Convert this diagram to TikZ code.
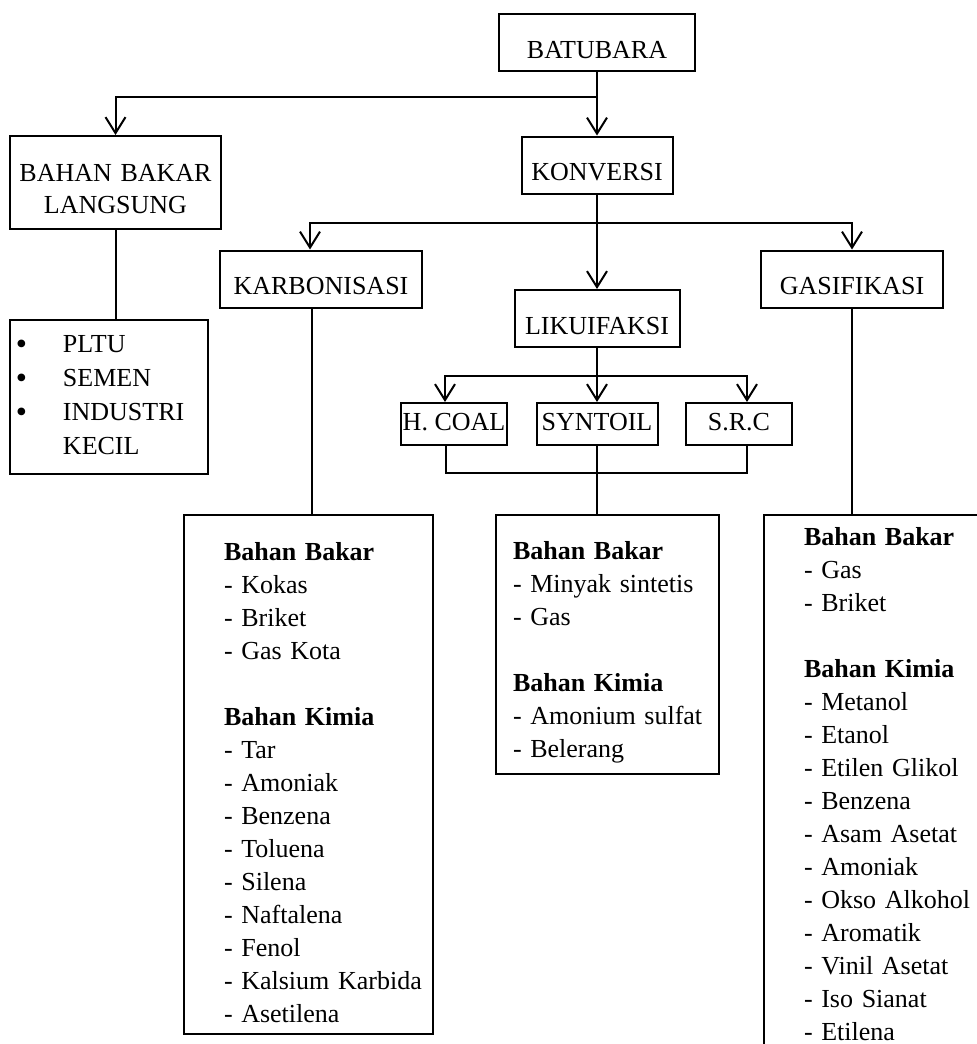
\documentclass[tikz,border=0pt]{standalone}
\usepackage{fontspec}
\setmainfont{Liberation Serif}
\usetikzlibrary{arrows.meta}

\newcommand{\bulletitem}{\makebox[23.5pt][l]{\raisebox{-1pt}{\fontsize{16pt}{16pt}\selectfont\textbullet}}}

\begin{document}
\begin{tikzpicture}[x=0.5pt,y=-0.5pt,line width=1pt,
                    >={Straight Barb[length=8pt,width=10pt]},
                    every node/.style={font=\fontsize{13pt}{16.5pt}\selectfont},
                    box/.style={draw,inner sep=0pt,minimum height=28.5pt,
                                text height=15.5pt,text depth=0pt},
                    small box/.style={draw,inner sep=0pt,minimum height=21pt,
                                minimum width=53pt,text height=6pt,text depth=0pt},
                    list box/.style={draw,anchor=north west,align=left,
                                inner xsep=0pt,text height=9pt}]
  \useasboundingbox (0,0) rectangle (977,1044);
  \clip (0,0) rectangle (977,1044);

  \node[box,minimum width=98pt]   (batubara)    at (597,42.5)  {BATUBARA};
  \node[box,minimum width=75.5pt] (konversi)    at (597,165)   {KONVERSI};
  \node[draw,text width=105.5pt,align=center,inner xsep=0pt,inner ysep=13.5pt,
        text height=9pt,text depth=10.5pt,font=\fontsize{13pt}{16pt}\selectfont]
                                  (langsung)    at (115.5,182.5) {BAHAN BAKAR\\LANGSUNG};
  \node[box,minimum width=101pt]  (karbonisasi) at (321,279)   {KARBONISASI};
  \node[box,minimum width=91pt]   (gasifikasi)  at (852,279)   {GASIFIKASI};
  \node[box,minimum width=82.5pt] (likuifaksi)  at (597,318.5) {LIKUIFAKSI};
  \node[small box]                (hcoal)       at (454,424)   {H. COAL};
  \node[small box,minimum width=60.5pt] (syntoil) at (597,424) {SYNTOIL};
  \node[small box]                (src)         at (739,424)   {S.R.C};

  \node[list box,text width=99pt,inner ysep=7pt,text depth=54pt,
        font=\fontsize{13pt}{17pt}\selectfont,
        execute at begin node={\leftskip=3pt}] (pltu) at (9,319)
    {\bulletitem PLTU\\\bulletitem SEMEN\\\bulletitem INDUSTRI\\\hspace*{23.5pt}KECIL};

  \node[list box,text width=124.5pt,inner ysep=13.5pt,text depth=223.5pt,
        execute at begin node={\leftskip=20pt}] (karbolist) at (183,514)
    {\textbf{Bahan Bakar}\\- Kokas\\- Briket\\- Gas Kota\\[16.5pt]
     \textbf{Bahan Kimia}\\- Tar\\- Amoniak\\- Benzena\\- Toluena\\- Silena\\
     - Naftalena\\- Fenol\\- Kalsium Karbida\\- Asetilena};

  \node[list box,text width=111.5pt,inner ysep=13pt,text depth=94.5pt,
        execute at begin node={\leftskip=8.5pt}] (synlist) at (495,514)
    {\textbf{Bahan Bakar}\\- Minyak sintetis\\- Gas\\[16.5pt]
     \textbf{Bahan Kimia}\\- Amonium sulfat\\- Belerang};

  \node[list box,text width=130pt,inner ysep=6pt,text depth=300pt,
        execute at begin node={\leftskip=20pt}] (gaslist) at (763,514)
    {\textbf{Bahan Bakar}\\- Gas\\- Briket\\[16.5pt]
     \textbf{Bahan Kimia}\\- Metanol\\- Etanol\\- Etilen Glikol\\- Benzena\\
     - Asam Asetat\\- Amoniak\\- Okso Alkohol\\- Aromatik\\- Vinil Asetat\\
     - Iso Sianat\\- Etilena};

  % arrows
  \draw[->] (batubara.south) -- (konversi.north);
  \draw[->] (batubara.south) ++(0,25) -| (langsung.north);
  \draw[->] (konversi.south) -- (likuifaksi.north);
  \draw[->] (konversi.south) ++(0,28) -| ([xshift=-5.5pt]karbonisasi.north);
  \draw[->] (konversi.south) ++(0,28) -| (gasifikasi.north);
  \draw[->] (likuifaksi.south) -- (syntoil.north);
  \draw[->] (likuifaksi.south) ++(0,28) -| ([xshift=-4.5pt]hcoal.north);
  \draw[->] (likuifaksi.south) ++(0,28) -| ([xshift=4pt]src.north);

  % plain lines
  \draw (langsung.south) -- (langsung.south |- pltu.north);
  \draw ([xshift=-4.5pt]karbonisasi.south) -- ([xshift=-4.5pt]karbonisasi.south |- karbolist.north);
  \draw (gasifikasi.south) -- (gasifikasi.south |- gaslist.north);
  \draw ([xshift=-4pt]hcoal.south) -- ++(0,27) -| ([xshift=4pt]src.south);
  \draw (syntoil.south) -- (syntoil.south |- synlist.north);
\end{tikzpicture}
\end{document}
